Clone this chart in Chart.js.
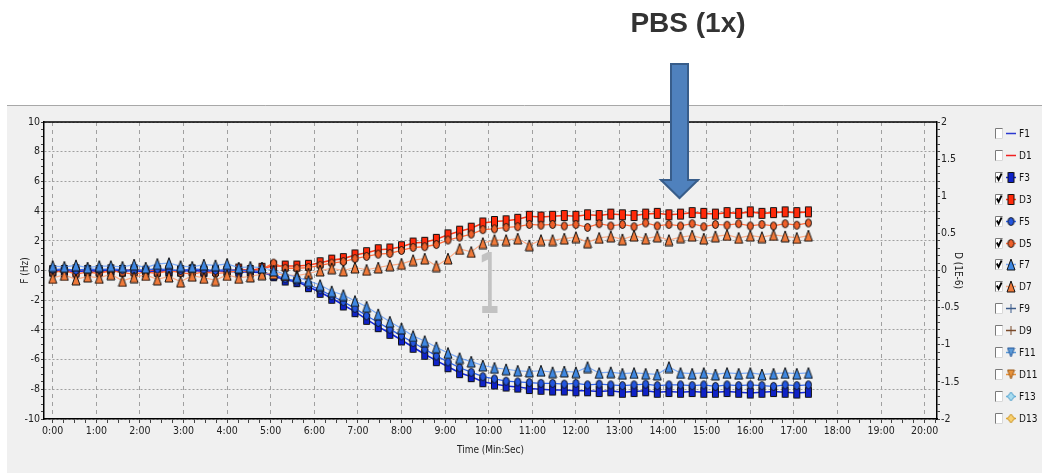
<!DOCTYPE html>
<html>
<head>
<meta charset="utf-8">
<script src="https://cdn.jsdelivr.net/npm/chart.js@4.4.1/dist/chart.umd.min.js"></script>
<style>
  body { margin: 0; background: #fff; }
  #wrap { width: 1042px; height: 473px; }
</style>
</head>
<body>
<div id="wrap"><canvas id="qcm-chart" width="1042" height="473"></canvas></div>
<script>
// sample times of the plotted markers (seconds)
const timeSec = [0, 16, 32, 48, 64, 80, 96, 112, 128, 144, 160, 176, 192, 208, 224, 240, 256, 272, 288, 304,
  320, 336, 352, 368, 384, 400, 416, 432, 448, 464, 480, 496, 512, 528, 544, 560, 576, 592, 608, 624,
  640, 656, 672, 688, 704, 720, 736, 752, 768, 784, 800, 816, 832, 848, 864, 880, 896, 912, 928, 944,
  960, 976, 992, 1008, 1024, 1040];

// frequency shifts (Hz), left axis
const f3 = [-0.05, 0.0, -0.1, 0.0, -0.05, 0.05, -0.05, 0.0, -0.1, -0.05, 0.0, -0.05, 0.0, -0.05, 0.0, -0.05, -0.1, -0.1,
  -0.15, -0.35, -0.64, -0.75, -1.09, -1.47, -1.87, -2.32, -2.77, -3.29, -3.78, -4.23, -4.68, -5.17, -5.64, -6.07,
  -6.48, -6.88, -7.15, -7.49, -7.64, -7.78, -7.85, -7.95, -8.0, -8.05, -8.05, -8.1,
  -8.1, -8.15, -8.1, -8.2, -8.15, -8.1, -8.2, -8.15, -8.2, -8.15, -8.2, -8.2, -8.15, -8.2, -8.25, -8.2, -8.15, -8.2, -8.25, -8.2];
const f5 = [0.05, 0.1, 0.0, 0.1, 0.05, 0.1, 0.05, 0.0, 0.05, 0.1, 0.05, 0.0, 0.1, 0.05, 0.0, 0.05, 0.0, 0.0,
  -0.1, -0.3, -0.55, -0.7, -0.95, -1.3, -1.7, -2.1, -2.55, -3.05, -3.5, -3.95, -4.4, -4.85, -5.3, -5.75,
  -6.15, -6.55, -6.85, -7.15, -7.3, -7.45, -7.5, -7.55, -7.6, -7.6, -7.65, -7.6,
  -7.7, -7.65, -7.7, -7.75, -7.7, -7.65, -7.75, -7.7, -7.7, -7.75, -7.7, -7.8, -7.7, -7.75, -7.7, -7.75, -7.8, -7.7, -7.75, -7.7];
const f7 = [0.3, 0.25, 0.35, 0.2, 0.3, 0.3, 0.25, 0.4, 0.2, 0.45, 0.5, 0.3, 0.25, 0.4, 0.35, 0.45, 0.2, 0.25,
  0.2, 0.0, -0.25, -0.45, -0.7, -0.98, -1.4, -1.65, -2.05, -2.44, -2.95, -3.45, -3.9, -4.41, -4.75, -5.17,
  -5.55, -5.9, -6.14, -6.4, -6.55, -6.65, -6.75, -6.8, -6.75, -6.85, -6.8, -6.85,
  -6.5, -6.9, -6.85, -6.95, -6.9, -6.95, -7.0, -6.5, -6.9, -6.95, -6.9, -7.0, -6.9, -6.95, -6.9, -7.0, -6.95, -6.9, -6.95, -6.9];

// dissipation shifts (1E-6), right axis
const d3 = [0.0, -0.02, 0.01, -0.01, 0.0, -0.02, 0.0, 0.01, -0.01, 0.0, -0.02, 0.0, 0.01, -0.01, 0.0, -0.01, 0.02, 0.0, 0.03, 0.06,
  0.06, 0.06, 0.07, 0.105, 0.14, 0.16, 0.21, 0.24, 0.28, 0.29, 0.32, 0.37, 0.38, 0.42, 0.48, 0.53, 0.57, 0.64, 0.66, 0.67,
  0.69, 0.73, 0.72, 0.73,
  0.74, 0.73, 0.75, 0.74, 0.76, 0.75, 0.74, 0.76, 0.77, 0.75, 0.76, 0.78, 0.77, 0.76, 0.78, 0.77, 0.79, 0.77, 0.78, 0.79, 0.78, 0.79];
const d5 = [-0.03, 0.0, -0.05, -0.02, -0.04, 0.0, -0.03, -0.05, -0.02, -0.04, 0.0, -0.03, -0.05, -0.02, -0.04, -0.03, 0.0, -0.02, 0.02, 0.1,
  0.03, 0.03, 0.04, 0.07, 0.1, 0.12, 0.16, 0.19, 0.22, 0.23, 0.27, 0.31, 0.32, 0.35, 0.41, 0.45, 0.49, 0.55, 0.56, 0.58,
  0.59, 0.62, 0.61, 0.62,
  0.6, 0.62, 0.58, 0.63, 0.6, 0.62, 0.59, 0.64, 0.6, 0.62, 0.6, 0.63, 0.59, 0.62, 0.61, 0.63, 0.6, 0.62, 0.6, 0.63, 0.61, 0.64];
const d7 = [-0.1, -0.06, -0.12, -0.08, -0.1, -0.05, -0.14, -0.09, -0.06, -0.12, -0.08, -0.15, -0.07, -0.1, -0.13, -0.06, -0.1, -0.08, -0.05, -0.04,
  -0.06, -0.07, -0.04, 0.0, 0.03, 0.0, 0.04, 0.01, 0.04, 0.07, 0.09, 0.14, 0.16, 0.06, 0.16, 0.29, 0.25, 0.37, 0.41, 0.41,
  0.43, 0.34, 0.41, 0.41,
  0.43, 0.45, 0.38, 0.44, 0.46, 0.42, 0.47, 0.43, 0.46, 0.41, 0.45, 0.47, 0.43, 0.46, 0.48, 0.44, 0.47, 0.45, 0.48, 0.46, 0.44, 0.47];

// overtones that are switched off in the legend (no data shown)
const emptySeries = [];

const tickFont = { family: '"Liberation Sans Narrow", "DejaVu Sans Condensed", Arial, sans-serif', size: 10.5 };

// little marker bitmaps so the points can be a bit taller than wide, like the original
function makeMarker(shape, fill, w, h, stroke) {
    const c = document.createElement('canvas');
    c.width = w + 2;
    c.height = h + 2;
    const g = c.getContext('2d');
    const x0 = 1, y0 = 1, cx = c.width / 2, cy = c.height / 2;
    g.fillStyle = fill;
    g.strokeStyle = stroke || '#111';
    g.lineWidth = 1;
    g.beginPath();
    if (shape === 'rect') {
        g.rect(x0 + 0.5, y0 + 0.5, w - 1, h - 1);
    } else if (shape === 'circle') {
        g.ellipse(cx, cy, w / 2 - 0.5, h / 2 - 0.5, 0, 0, Math.PI * 2);
    } else if (shape === 'tri') {
        g.moveTo(cx, y0); g.lineTo(x0 + w, y0 + h); g.lineTo(x0, y0 + h); g.closePath();
    } else if (shape === 'triDown') {
        g.moveTo(x0, y0); g.lineTo(x0 + w, y0); g.lineTo(cx, y0 + h); g.closePath();
    } else if (shape === 'diamond') {
        g.moveTo(cx, y0); g.lineTo(x0 + w, cy); g.lineTo(cx, y0 + h); g.lineTo(x0, cy); g.closePath();
    } else if (shape === 'cross') {
        g.moveTo(cx, y0); g.lineTo(cx, y0 + h); g.moveTo(x0, cy); g.lineTo(x0 + w, cy);
        g.strokeStyle = fill;
        g.stroke();
        return c;
    }
    g.fill();
    g.stroke();
    return c;
}

function series(label, values, axis, lineColor, marker, order, width) {
    return {
        label: label,
        yAxisID: axis,
        data: values.map((v, i) => ({ x: timeSec[i], y: v })),
        borderColor: lineColor,
        backgroundColor: lineColor,
        borderWidth: width || 1,
        pointStyle: marker || 'circle',
        pointRadius: marker ? 4 : 0,
        legendMarker: marker,
        hidden: values.length === 0,
        order: order,
        tension: 0
    };
}

const datasets = [
    series('F1', emptySeries, 'y', '#2c3ad0', null, 3),
    series('D1', emptySeries, 'y1', '#f02020', null, 3),
    series('F3', f3, 'y', '#1428d8', makeMarker('rect', '#0f22c8', 7, 11), 2, 1.6),
    series('D3', d3, 'y1', '#ff3a1a', makeMarker('rect', '#ff2a0a', 7, 11), 2, 1.6),
    series('F5', f5, 'y', '#2f63ea', makeMarker('circle', '#2356e0', 7, 9), 1, 1.3),
    series('D5', d5, 'y1', '#ff6a3a', makeMarker('circle', '#f0602a', 7, 9), 1, 1.3),
    series('F7', f7, 'y', 'rgba(90,150,250,0.75)', makeMarker('tri', '#3f88e2', 8, 11), 0, 1.2),
    series('D7', d7, 'y1', 'rgba(255,150,100,0.75)', makeMarker('tri', '#f07a3a', 8, 11), 0, 1.2),
    series('F9', emptySeries, 'y', '#3b5b8a', makeMarker('cross', '#3b5b8a', 8, 9), 3),
    series('D9', emptySeries, 'y1', '#7a4a2a', makeMarker('cross', '#7a4a2a', 8, 9), 3),
    series('F11', emptySeries, 'y', '#5a9ad8', makeMarker('triDown', '#5a9ad8', 7, 9, '#2a5a9a'), 3),
    series('D11', emptySeries, 'y1', '#e8923a', makeMarker('triDown', '#e8923a', 7, 9, '#9a5a1a'), 3),
    series('F13', emptySeries, 'y', '#6ab4dc', makeMarker('diamond', '#a8dcf0', 7, 9, '#4a9ac8'), 3),
    series('D13', emptySeries, 'y1', '#e0a830', makeMarker('diamond', '#f8d070', 7, 9, '#c89020'), 3)
];

// grey panel behind the whole plot, like the instrument software window
const panelBackground = {
    id: 'panelBackground',
    beforeDraw(chart) {
        const ctx = chart.ctx;
        ctx.save();
        ctx.fillStyle = '#ffffff';
        ctx.fillRect(0, 0, chart.width, chart.height);
        ctx.fillStyle = '#f0f0f0';
        ctx.fillRect(7, 105, chart.width - 7, chart.height - 105);
        ctx.strokeStyle = '#a8a8a8';
        ctx.lineWidth = 1;
        ctx.beginPath();
        ctx.moveTo(7, 105.5);
        ctx.lineTo(chart.width, 105.5);
        ctx.stroke();
        ctx.restore();
    },
    beforeDatasetsDraw(chart) {
        // faint step number in the middle of the plot
        const ctx = chart.ctx;
        const x = chart.scales.x.getPixelForValue(600);
        const y = chart.scales.y.getPixelForValue(-2.85);
        ctx.save();
        ctx.translate(x, y);
        ctx.scale(0.45, 1);
        ctx.fillStyle = '#c2c2c2';
        ctx.font = '84px "DejaVu Sans Mono"';
        ctx.textAlign = 'center';
        ctx.textBaseline = 'alphabetic';
        ctx.fillText('1', 0, 0);
        ctx.restore();
    }
};

// frame, title and arrow on top
const annotations = {
    id: 'annotations',
    afterDraw(chart) {
        const ctx = chart.ctx;
        const a = chart.chartArea;
        ctx.save();
        ctx.strokeStyle = '#000';
        ctx.lineWidth = 1.5;
        ctx.beginPath();
        ctx.moveTo(a.left, a.top);
        ctx.lineTo(a.right, a.top);
        ctx.stroke();

        ctx.fillStyle = '#333';
        ctx.font = 'bold 28px "Liberation Sans", Arial, sans-serif';
        ctx.textAlign = 'center';
        ctx.textBaseline = 'alphabetic';
        ctx.fillText('PBS (1x)', 688, 32);

        ctx.beginPath();
        ctx.moveTo(671, 64);
        ctx.lineTo(688, 64);
        ctx.lineTo(688, 180);
        ctx.lineTo(698, 180);
        ctx.lineTo(679.5, 198);
        ctx.lineTo(661, 180);
        ctx.lineTo(671, 180);
        ctx.closePath();
        ctx.fillStyle = '#4f81bd';
        ctx.fill();
        ctx.strokeStyle = '#385d8a';
        ctx.lineWidth = 2;
        ctx.stroke();
        ctx.restore();
    }
};

// legend with check boxes, as in the software
const legendBoxes = {
    id: 'legendBoxes',
    afterDraw(chart) {
        const ctx = chart.ctx;
        ctx.save();
        chart.data.datasets.forEach((ds, i) => {
            const y = Math.round(133 + i * 21.9);
            ctx.fillStyle = '#fff';
            ctx.fillRect(995, y - 5, 8, 11);
            ctx.strokeStyle = '#7a7a7a';
            ctx.lineWidth = 1;
            ctx.beginPath();
            ctx.moveTo(995.5, y + 6);
            ctx.lineTo(995.5, y - 4.5);
            ctx.lineTo(1003, y - 4.5);
            ctx.stroke();
            ctx.strokeStyle = '#d8d8d8';
            ctx.beginPath();
            ctx.moveTo(1002.5, y - 4.5);
            ctx.lineTo(1002.5, y + 5.5);
            ctx.lineTo(995.5, y + 5.5);
            ctx.stroke();
            if (!ds.hidden) {
                ctx.strokeStyle = '#000';
                ctx.lineWidth = 1.8;
                ctx.beginPath();
                ctx.moveTo(996.8, y - 0.5);
                ctx.lineTo(998.6, y + 3);
                ctx.lineTo(1001.6, y - 3.5);
                ctx.stroke();
            }
            ctx.strokeStyle = ds.borderColor;
            ctx.lineWidth = 1.5;
            ctx.beginPath();
            ctx.moveTo(1006, y + 0.5);
            ctx.lineTo(1016, y + 0.5);
            ctx.stroke();
            const m = ds.legendMarker;
            if (m) {
                ctx.drawImage(m, 1011 - m.width / 2, y + 0.5 - m.height / 2);
            }
            ctx.fillStyle = '#111';
            ctx.font = '10px "Liberation Sans Narrow", "DejaVu Sans Condensed", Arial';
            ctx.textAlign = 'left';
            ctx.textBaseline = 'middle';
            ctx.fillText(ds.label, 1019, y + 1);
        });
        ctx.restore();
    }
};

const ctx = document.getElementById('qcm-chart').getContext('2d');
const qcmChart = new Chart(ctx, {
    type: 'line',
    data: { datasets: datasets },
    options: {
        responsive: false,
        animation: false,
        events: [],
        layout: { padding: { left: 15, top: 122, right: 74, bottom: 13 } },
        plugins: {
            legend: { display: false },
            tooltip: { enabled: false }
        },
        scales: {
            x: {
                type: 'linear',
                position: 'bottom',
                min: -12,
                max: 1217,
                afterFit: s => { s.height = 41; },
                ticks: {
                    stepSize: 15,
                    autoSkip: false,
                    includeBounds: false,
                    maxRotation: 0,
                    minRotation: 0,
                    padding: 2,
                    color: '#222',
                    font: tickFont,
                    callback: v => (v % 60 === 0 ? (v / 60) + ':00' : '')
                },
                grid: {
                    color: c => (c.tick && c.tick.value % 60 === 0 ? '#a0a0a0' : 'transparent'),
                    tickColor: '#444',
                    tickLength: 4
                },
                border: { color: '#000', width: 1.5, dash: [4, 4] },
                title: { display: true, text: 'Time (Min:Sec)', color: '#222', font: { family: tickFont.family, size: 10 } }
            },
            y: {
                position: 'left',
                min: -10,
                max: 10,
                afterFit: s => { s.width = 29; },
                ticks: {
                    stepSize: 0.5,
                    autoSkip: false,
                    padding: 1,
                    color: '#222',
                    font: tickFont,
                    callback: v => (v % 2 === 0 ? v : '')
                },
                grid: {
                    color: c => (c.tick && c.tick.value % 2 === 0 ? '#a0a0a0' : 'transparent'),
                    tickColor: '#444',
                    tickLength: 3
                },
                border: { color: '#000', width: 1.5, dash: [2, 2] },
                title: { display: true, text: 'F (Hz)', color: '#222', font: { family: tickFont.family, size: 10 } }
            },
            y1: {
                position: 'right',
                min: -2,
                max: 2,
                afterFit: s => { s.width = 31; },
                ticks: {
                    stepSize: 0.1,
                    autoSkip: false,
                    padding: 1,
                    color: '#222',
                    font: tickFont,
                    callback: v => (Math.abs(v * 2 - Math.round(v * 2)) < 1e-6 ? String(Math.round(v * 10) / 10) : '')
                },
                grid: {
                    drawOnChartArea: false,
                    tickColor: '#444',
                    tickLength: 3
                },
                border: { color: '#000', width: 1.5 },
                title: { display: true, text: 'D (1E-6)', color: '#222', font: { family: tickFont.family, size: 10 } }
            }
        }
    },
    plugins: [panelBackground, annotations, legendBoxes]
});
</script>
</body>
</html>
